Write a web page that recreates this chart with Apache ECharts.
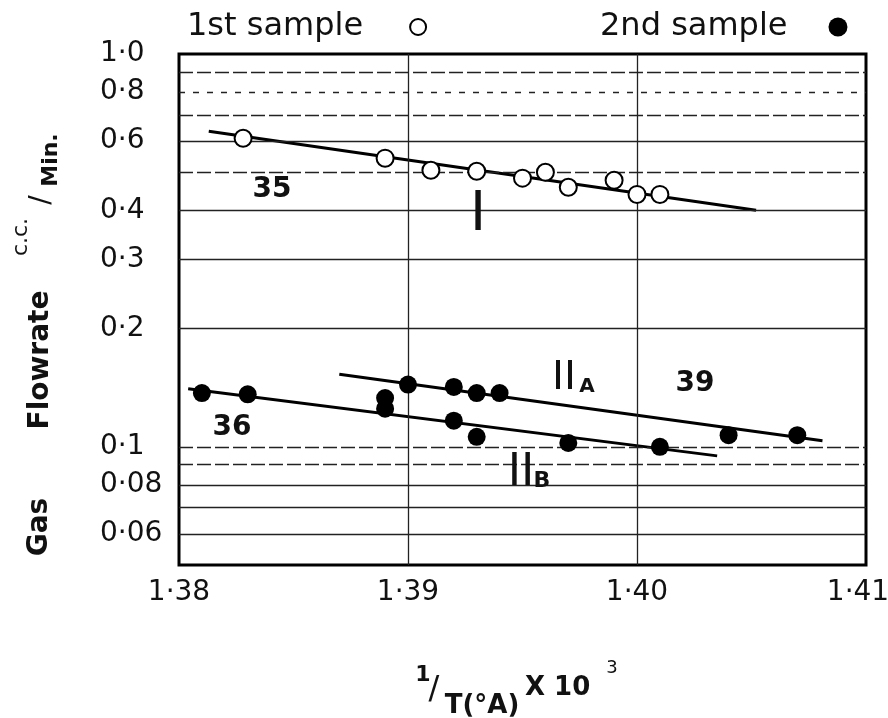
<!DOCTYPE html>
<html>
<head>
<meta charset="utf-8">
<script src="https://cdn.jsdelivr.net/npm/echarts@6/dist/echarts.min.js"></script>
<style>
  html, body { margin: 0; padding: 0; background: #fff; }
  #chart { width: 888px; height: 718px; }
</style>
</head>
<body>
<div id="chart"></div>
<script>
// Axis ticks and reference grid values
const xTicks = [1.38, 1.39, 1.40, 1.41];
const yTicks = [1.0, 0.8, 0.6, 0.4, 0.3, 0.2, 0.1, 0.08, 0.06];
const xGrid = [1.39, 1.40];
const yGrid = [0.9, 0.8, 0.7, 0.6, 0.5, 0.4, 0.3, 0.2, 0.1, 0.09, 0.08, 0.07, 0.06];

// 1st sample (open circles), run I
const firstX = [1.3828, 1.389, 1.391, 1.393, 1.395, 1.396, 1.397, 1.399, 1.400, 1.401];
const firstY = [0.610, 0.543, 0.506, 0.503, 0.483, 0.500, 0.458, 0.477, 0.439, 0.439];

// 2nd sample (filled circles), runs IIA and IIB
const secondAX = [1.390, 1.392, 1.393, 1.394, 1.404, 1.407];
const secondAY = [0.144, 0.142, 0.137, 0.137, 0.107, 0.107];
const secondBX = [1.381, 1.383, 1.389, 1.389, 1.392, 1.393, 1.397, 1.401];
const secondBY = [0.137, 0.136, 0.133, 0.125, 0.1165, 0.106, 0.1023, 0.100];

// Fitted straight lines (end points)
const lineIX = [1.3813, 1.4052];
const lineIY = [0.636, 0.400];
const lineIIAX = [1.3870, 1.4081];
const lineIIAY = [0.153, 0.1036];
const lineIIBX = [1.3804, 1.4035];
const lineIIBY = [0.1406, 0.0948];

const zip = (xs, ys) => xs.map((x, i) => [x, ys[i]]);
const dot = s => s.replace('.', '·');
const fmtY = v => dot(v.toFixed(v < 0.0999 ? 2 : 1));

const DV = "'DejaVu Sans', 'Noto Sans', sans-serif";
const LIB = "'Liberation Sans', Arial, sans-serif";

// dash pattern of each horizontal rule line
function ruleStyle(v) {
  const dashed = [0.9, 0.7, 0.5, 0.1, 0.09];
  const dotted = [0.8];
  let type = 'solid';
  if (dashed.some(d => Math.abs(d - v) < 1e-9)) type = [14, 4];
  if (dotted.some(d => Math.abs(d - v) < 1e-9)) type = [6, 8];
  return { color: '#222', width: 1.3, type: type };
}

const gridLines = [
  ...yGrid.map(v => ({ yAxis: v, lineStyle: ruleStyle(v) })),
  ...xGrid.map(v => ({ xAxis: v, lineStyle: { color: '#222', width: 1.3, type: 'solid' } }))
];

function txt(x, y, text, size, opts) {
  opts = opts || {};
  return {
    type: 'text', x: x, y: y, rotation: opts.rotation || 0, z: 10,
    style: {
      text: text, fontSize: size, fontFamily: opts.family || DV,
      fontWeight: opts.weight || 'normal', fill: '#111',
      align: opts.align || 'center', verticalAlign: 'middle'
    }
  };
}
const R = Math.PI / 2;

const chart = echarts.init(document.getElementById('chart'), null, { renderer: 'canvas' });

chart.setOption({
  backgroundColor: '#fff',
  animation: false,
  grid: {
    left: 179, right: 22, top: 54, bottom: 153,
    outerBoundsMode: 'none', containLabel: false,
    show: true, borderColor: '#000', borderWidth: 3, backgroundColor: 'transparent'
  },
  legend: [
    {
      data: ['1st sample'], left: 182, top: 6, align: 'right',
      itemWidth: 16, itemHeight: 16, icon: 'circle',
      itemStyle: { color: '#fff', borderColor: '#000', borderWidth: 2 },
      textStyle: { fontSize: 32, fontFamily: DV, color: '#111', padding: [0, 42, 0, 0] }
    },
    {
      data: ['2nd sample'], left: 595, top: 6, align: 'right',
      itemWidth: 19, itemHeight: 19, icon: 'circle',
      textStyle: { fontSize: 32, fontFamily: DV, color: '#111', padding: [0, 36, 0, 0] }
    }
  ],
  xAxis: {
    type: 'value', min: 1.38, max: 1.41,
    axisLine: { show: false }, axisTick: { show: false }, splitLine: { show: false },
    axisLabel: {
      customValues: xTicks, margin: 14, fontSize: 28, fontFamily: DV, color: '#111',
      formatter: v => (Math.abs(v - 1.41) < 1e-9 ? '{end|' + dot(v.toFixed(2)) + '}' : dot(v.toFixed(2))),
      rich: { end: { fontSize: 28, fontFamily: DV, color: '#111', padding: [0, 16, 0, 0] } }
    }
  },
  yAxis: [
    {
      type: 'log', logBase: 10, min: 0.05, max: 1,
      axisLine: { show: false }, axisTick: { show: false }, splitLine: { show: false },
      axisLabel: { show: false }
    },
    {
      // label axis in log10 space, aligned with the log axis above
      type: 'value', position: 'left', min: Math.log10(0.05), max: 0,
      axisLine: { show: false }, axisTick: { show: false }, splitLine: { show: false },
      axisLabel: {
        customValues: yTicks.map(v => Math.log10(v)), align: 'left', margin: 79,
        fontSize: 28, fontFamily: DV, color: '#111',
        formatter: v => fmtY(Math.pow(10, v))
      }
    }
  ],
  series: [
    {
      type: 'line', name: 'rules', yAxisIndex: 0, data: [], silent: true,
      markLine: { silent: true, symbol: 'none', label: { show: false }, data: gridLines, animation: false }
    },
    {
      type: 'line', name: 'fit I', data: zip(lineIX, lineIY), symbol: 'none', silent: true, z: 3,
      lineStyle: { color: '#000', width: 3 }
    },
    {
      type: 'line', name: 'fit IIA', data: zip(lineIIAX, lineIIAY), symbol: 'none', silent: true, z: 3,
      lineStyle: { color: '#000', width: 3 }
    },
    {
      type: 'line', name: 'fit IIB', data: zip(lineIIBX, lineIIBY), symbol: 'none', silent: true, z: 3,
      lineStyle: { color: '#000', width: 3 }
    },
    {
      type: 'scatter', name: '1st sample', data: zip(firstX, firstY), symbol: 'circle', symbolSize: 17, z: 5,
      itemStyle: { color: '#fff', borderColor: '#000', borderWidth: 2, opacity: 1 }
    },
    {
      type: 'scatter', name: '2nd sample', data: zip(secondAX, secondAY), symbol: 'circle', symbolSize: 18, z: 5,
      itemStyle: { color: '#000', opacity: 1 }
    },
    {
      type: 'scatter', name: '2nd sample', data: zip(secondBX, secondBY), symbol: 'circle', symbolSize: 18, z: 5,
      itemStyle: { color: '#000', opacity: 1 }
    }
  ],
  graphic: [
    // y-axis title, read bottom to top
    txt(40, 527, 'Gas', 28, { rotation: R, weight: 'bold' }),
    txt(41, 360, 'Flowrate', 28, { rotation: R, weight: 'bold' }),
    txt(21, 237, 'c.c.', 22, { rotation: R }),
    txt(42, 200, '/', 28, { rotation: R }),
    txt(51, 160, 'Min.', 22, { rotation: R, weight: 'bold' }),
    // x-axis title
    txt(423, 675, '1', 22, { weight: 'bold' }),
    txt(434, 690, '/', 32),
    txt(482, 706, 'T(°A)', 26, { weight: 'bold' }),
    txt(525, 688, 'X 10', 26, { weight: 'bold', align: 'left' }),
    txt(612, 668, '3', 18),
    // run labels
    txt(272, 190, '35', 28, { weight: 'bold' }),
    txt(232, 428, '36', 28, { weight: 'bold' }),
    txt(695, 384, '39', 28, { weight: 'bold' }),
    txt(478, 214, 'I', 58, { family: LIB }),
    txt(564, 377, 'II', 43, { family: LIB }),
    txt(587, 387, 'A', 20, { weight: 'bold' }),
    txt(521, 472, 'II', 48, { family: LIB }),
    txt(542, 481, 'B', 22, { weight: 'bold' })
  ]
});
</script>
</body>
</html>
